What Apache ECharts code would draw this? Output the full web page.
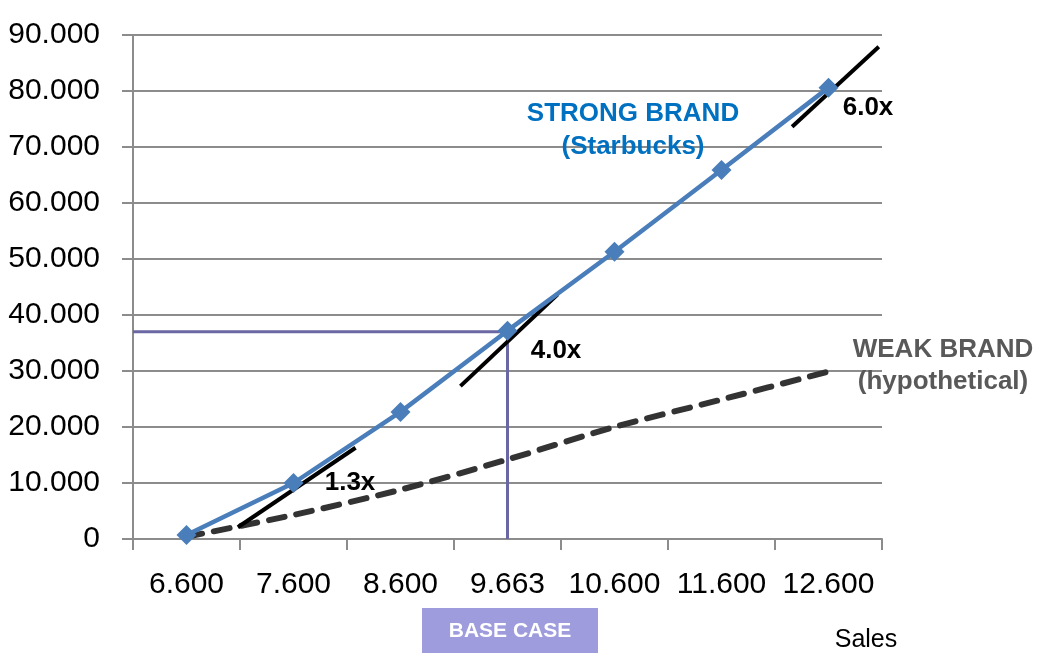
<!DOCTYPE html>
<html>
<head>
<meta charset="utf-8">
<style>
  html, body { margin: 0; padding: 0; background: #fff; }
  #chart { width: 1045px; height: 655px; }
</style>
<script src="https://cdn.jsdelivr.net/npm/echarts@6/dist/echarts.min.js"></script>
</head>
<body>
<div id="chart"></div>
<script>
// ---- data ----
var categories = ['6.600', '7.600', '8.600', '9.663', '10.600', '11.600', '12.600'];
var strongBrand = [700, 10000, 22700, 37200, 51300, 65900, 80600];
var weakBrand = [400, 4300, 8800, 14200, 20000, 24900, 29900];
// tangent segments, in [category position, value] (category i centre = i + 0.5)
var tangent13 = [[0.98, 2100], [2.08, 16300]];
var tangent40 = [[3.06, 27300], [3.97, 43700]];
var tangent60 = [[6.16, 73600], [6.97, 87900]];
var baseCaseLine = [[0, 37000], [3.5, 37000], [3.5, 0]];
var yTicks = { min: 0, max: 90000, interval: 10000 };

function fmt(v) {
  if (v === 0) return '0';
  var s = String(Math.round(v));
  return s.replace(/\B(?=(\d{3})+(?!\d))/g, '.');
}

var chart = echarts.init(document.getElementById('chart'), null, { renderer: 'canvas' });
var axisGray = '#8c8c8c';
var numFont = "'Liberation Sans', Arial, sans-serif";
var boldFont = "'Liberation Sans', Arial, sans-serif";

function segSeries(data, color, width) {
  return {
    type: 'line', xAxisIndex: 1, yAxisIndex: 0, data: data,
    symbol: 'none', silent: true,
    lineStyle: { color: color, width: width, cap: 'butt' },
    z: 4
  };
}

var option = {
  animation: false,
  backgroundColor: '#ffffff',
  grid: { left: 133, right: 163, top: 35, bottom: 116, containLabel: false, outerBoundsMode: 'none' },
  xAxis: [
    {
      type: 'category', data: categories, boundaryGap: true,
      axisLine: { show: true, lineStyle: { color: axisGray, width: 2 } },
      axisTick: { show: true, length: 11, lineStyle: { color: axisGray, width: 2 } },
      axisLabel: { color: '#000', fontFamily: numFont, fontSize: 30, margin: 31, interval: 0, hideOverlap: false },
      splitLine: { show: false }
    },
    {
      type: 'value', min: 0, max: 7, show: false
    }
  ],
  yAxis: [{
    type: 'value', min: yTicks.min, max: yTicks.max, interval: yTicks.interval,
    axisLine: { show: true, lineStyle: { color: axisGray, width: 2 } },
    axisTick: { show: true, length: 11, lineStyle: { color: axisGray, width: 2 } },
    axisLabel: { color: '#000', fontFamily: numFont, fontSize: 30, margin: 33, formatter: fmt },
    splitLine: { show: true, lineStyle: { color: axisGray, width: 2 } }
  }],
  series: [
    segSeries(baseCaseLine, '#6b67a4', 3),
    {
      name: 'Weak brand', type: 'line', xAxisIndex: 0, data: weakBrand,
      symbol: 'none', smooth: 0.3,
      lineStyle: { color: '#333333', width: 6, type: [16, 12], cap: 'round' },
      z: 3
    },
    {
      name: 'Strong brand', type: 'line', xAxisIndex: 0, data: strongBrand,
      symbol: 'diamond', symbolSize: 20,
      itemStyle: { color: '#4a7ebb' },
      lineStyle: { color: '#4a7ebb', width: 4.5 },
      z: 5
    },
    segSeries(tangent13, '#000000', 4),
    segSeries(tangent40, '#000000', 4),
    segSeries(tangent60, '#000000', 4)
  ],
  graphic: [
    { type: 'text', style: { x: 633, y: 97, text: 'STRONG BRAND\n(Starbucks)', textAlign: 'center', fill: '#0070c0', font: 'bold 26px ' + boldFont, lineHeight: 33 }, z: 10 },
    { type: 'text', style: { x: 943, y: 334, text: 'WEAK BRAND\n(hypothetical)', textAlign: 'center', fill: '#595959', font: 'bold 26px ' + boldFont, lineHeight: 32 }, z: 10 },
    { type: 'text', style: { x: 350, y: 483, text: '1.3x', textAlign: 'center', textVerticalAlign: 'middle', fill: '#000', font: 'bold 26px ' + boldFont }, z: 10 },
    { type: 'text', style: { x: 556, y: 351, text: '4.0x', textAlign: 'center', textVerticalAlign: 'middle', fill: '#000', font: 'bold 26px ' + boldFont }, z: 10 },
    { type: 'text', style: { x: 868, y: 108, text: '6.0x', textAlign: 'center', textVerticalAlign: 'middle', fill: '#000', font: 'bold 26px ' + boldFont }, z: 10 },
    { type: 'rect', shape: { x: 422, y: 608, width: 176, height: 45 }, style: { fill: '#9e9cdc' }, z: 10 },
    { type: 'text', style: { x: 510, y: 631, text: 'BASE CASE', textAlign: 'center', textVerticalAlign: 'middle', fill: '#ffffff', font: 'bold 21px ' + boldFont }, z: 11 },
    { type: 'text', style: { x: 866, y: 640, text: 'Sales', textAlign: 'center', textVerticalAlign: 'middle', fill: '#000', font: '25px ' + boldFont }, z: 10 }
  ]
};
chart.setOption(option);
</script>
</body>
</html>
